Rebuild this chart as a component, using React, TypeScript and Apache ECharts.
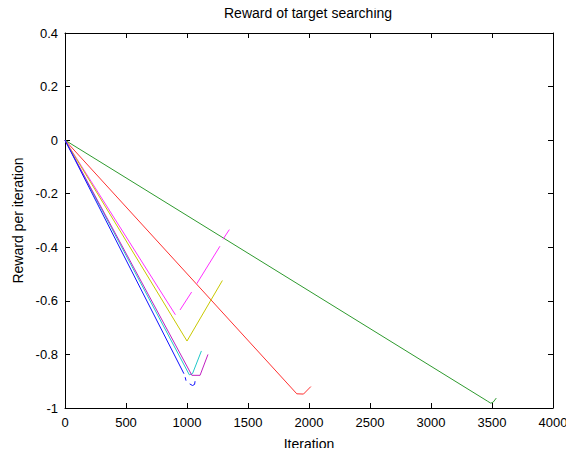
import React, { useEffect, useRef } from "react";
import * as echarts from "echarts";

type Pt = [number, number | null];

const xTicks = { min: 0, max: 4000, interval: 500 };
const yTicks = { min: -1, max: 0.4, interval: 0.2 };

const titleText = "Reward of target searching";
const xName = "Iteration";
const yName = "Reward per iteration";

const greenRun: Pt[] = [[0, 0], [3465, -0.975], [3490, -0.982], [3510, -0.978], [3535, -0.963]];
const redRun: Pt[] = [[0, 0], [1900, -0.947], [1955, -0.948], [2015, -0.92]];
const pinkRun: Pt[] = [
  [0, 0], [905, -0.652], [920, null],
  [943, -0.634], [1038, -0.567], [1060, null],
  [1080, -0.536], [1270, -0.396], [1282, null],
  [1295, -0.37], [1347, -0.334],
];
const yellowRun: Pt[] = [[0, 0], [1000, -0.75], [1290, -0.524]];
const cyanRun: Pt[] = [[0, 0], [1019, -0.876], [1045, -0.872], [1118, -0.787]];
const purpleRun: Pt[] = [[0, 0], [1040, -0.878], [1107, -0.878], [1172, -0.8]];
const blueRun: Pt[] = [
  [0, 0], [975, -0.872], [980, null],
  [985, -0.885], [992, -0.898], [1005, null],
  [1022, -0.91], [1045, -0.916], [1062, -0.912], [1066, -0.9],
];

const seriesList: { name: string; color: string; data: Pt[] }[] = [
  { name: "green", color: "#2e9a2e", data: greenRun },
  { name: "red", color: "#ff3030", data: redRun },
  { name: "pink", color: "#ff30ff", data: pinkRun },
  { name: "yellow", color: "#c8c800", data: yellowRun },
  { name: "cyan", color: "#20c8c8", data: cyanRun },
  { name: "purple", color: "#c020c0", data: purpleRun },
  { name: "blue", color: "#1010ff", data: blueRun },
];

const FONT = "Liberation Sans";

export default function App() {
  const ref = useRef<HTMLDivElement>(null);
  useEffect(() => {
    if (!ref.current) return;
    const chart = echarts.init(ref.current, undefined, { renderer: "svg" });
    const axisCommon = {
      axisLine: { show: true, onZero: false, lineStyle: { color: "#000", width: 1 } },
      axisTick: { show: true, inside: true, length: 5, lineStyle: { color: "#000" } },
      splitLine: { show: false },
    };
    chart.setOption({
      animation: false,
      backgroundColor: "#fff",
      grid: { left: 65, right: 21, top: 33, bottom: 41, containLabel: false },
      graphic: [
        {
          type: "text",
          left: 309 - 85,
          top: 6,
          style: { text: titleText, fontSize: 14, fontFamily: FONT, fill: "#000" },
        },
      ],
      xAxis: [
        {
          type: "value",
          ...xTicks,
          position: "bottom",
          ...axisCommon,
          axisLabel: {
            color: "#000",
            fontSize: 13,
            fontFamily: FONT,
            margin: 8,
            formatter: (v: number) => String(v),
          },
          name: xName,
          nameLocation: "middle",
          nameGap: 29,
          nameTextStyle: { color: "#000", fontSize: 14, fontFamily: FONT },
        },
        {
          type: "value",
          ...xTicks,
          position: "top",
          ...axisCommon,
          axisLabel: { show: false },
        },
      ],
      yAxis: [
        {
          type: "value",
          ...yTicks,
          position: "left",
          ...axisCommon,
          axisLabel: {
            color: "#000",
            fontSize: 13,
            fontFamily: FONT,
            margin: 7,
            formatter: (v: number) => String(+v.toFixed(1)),
          },
          name: yName,
          nameLocation: "middle",
          nameGap: 40,
          nameTextStyle: { color: "#000", fontSize: 14, fontFamily: FONT },
        },
        {
          type: "value",
          ...yTicks,
          position: "right",
          ...axisCommon,
          axisLabel: { show: false },
        },
      ],
      series: seriesList.map((s) => ({
        name: s.name,
        type: "line",
        data: s.data,
        showSymbol: false,
        symbol: "none",
        connectNulls: false,
        lineStyle: { color: s.color, width: 1 },
        itemStyle: { color: s.color },
        silent: true,
      })),
    });
    return () => chart.dispose();
  }, []);
  return <div ref={ref} style={{ width: 574, height: 456, margin: -8 }} />;
}
